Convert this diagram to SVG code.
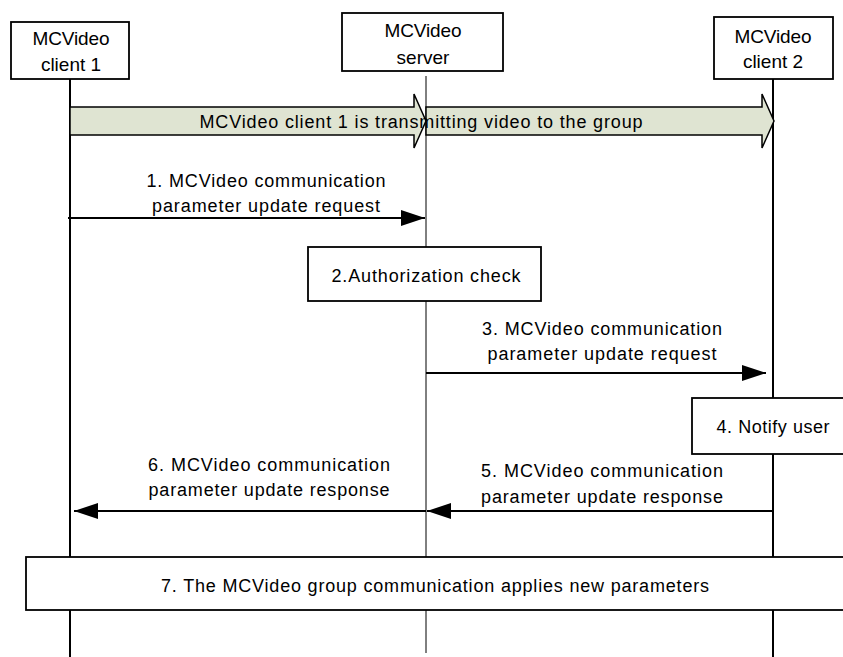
<svg xmlns="http://www.w3.org/2000/svg" width="843" height="657" viewBox="0 0 843 657">
<style>
text{font-family:"Liberation Sans",Arial,sans-serif;font-size:18px;fill:#000;text-anchor:middle}
.title{font-size:19px}
.box{fill:#fff;stroke:#000;stroke-width:1.8}
.life{stroke:#000;stroke-width:2}
.life-thin{stroke:#000;stroke-width:1}
.msg{stroke:#000;stroke-width:2;fill:none}
.big{fill:#dfe4d2;stroke:#000;stroke-width:1.5;stroke-linejoin:miter}
</style>
<defs>
<marker id="ah" markerUnits="userSpaceOnUse" markerWidth="24" markerHeight="16" refX="24" refY="8" orient="auto">
<path d="M0,0 L24,8 L0,16 Z" fill="#000"/>
</marker>
</defs>
<g id="lifelines">
<line class="life" x1="70" y1="79" x2="70" y2="657"/>
<line class="life-thin" x1="426" y1="76" x2="426" y2="653"/>
<line class="life" x1="773" y1="79" x2="773" y2="657"/>
</g>
<g id="client1">
<rect class="box" x="11" y="22" width="118" height="57"/>
<text class="title" x="71" y="45" textLength="77">MCVideo</text>
<text class="title" x="71" y="71">client 1</text>
</g>
<g id="server">
<rect class="box" x="342" y="13" width="161" height="58"/>
<text class="title" x="423" y="37" textLength="77">MCVideo</text>
<text class="title" x="423" y="64">server</text>
</g>
<g id="client2">
<rect class="box" x="714" y="17" width="119" height="62"/>
<text class="title" x="773" y="43" textLength="77">MCVideo</text>
<text class="title" x="773" y="68">client 2</text>
</g>
<g id="transmit">
<polygon class="big" points="70,107 414,107 414,94 426,121 414,148 414,135 70,135"/>
<polygon class="big" points="426,107 762,107 762,94 774,121 762,148 762,135 426,135"/>
<text x="421" y="128" textLength="443">MCVideo client 1 is transmitting video to the group</text>
</g>
<g id="connectors">
<line class="msg" x1="68" y1="218" x2="425" y2="218" marker-end="url(#ah)"/>
<line class="msg" x1="426" y1="373" x2="766" y2="373" marker-end="url(#ah)"/>
<line class="msg" x1="773" y1="511" x2="427" y2="511" marker-end="url(#ah)"/>
<line class="msg" x1="426" y1="511" x2="74" y2="511" marker-end="url(#ah)"/>
</g>
<g id="labels">
<text x="266" y="187" textLength="239">1. MCVideo communication</text>
<text x="266" y="212" textLength="228">parameter update request</text>
<text x="602" y="335" textLength="240">3. MCVideo communication</text>
<text x="602" y="360" textLength="229">parameter update request</text>
<text x="602" y="477" textLength="242">5. MCVideo communication</text>
<text x="602" y="503" textLength="242">parameter update response</text>
<text x="269" y="471" textLength="242">6. MCVideo communication</text>
<text x="269" y="496" textLength="241">parameter update response</text>
</g>
<g id="auth">
<rect class="box" x="308" y="247" width="233" height="54"/>
<text x="426" y="282" textLength="189">2.Authorization check</text>
</g>
<g id="notify">
<rect class="box" x="692" y="398" width="160" height="56"/>
<text x="773" y="433" textLength="113">4. Notify user</text>
</g>
<g id="apply">
<rect class="box" x="26" y="557" width="826" height="53"/>
<text x="435" y="592" textLength="548">7. The MCVideo group communication applies new parameters</text>
</g>
</svg>
